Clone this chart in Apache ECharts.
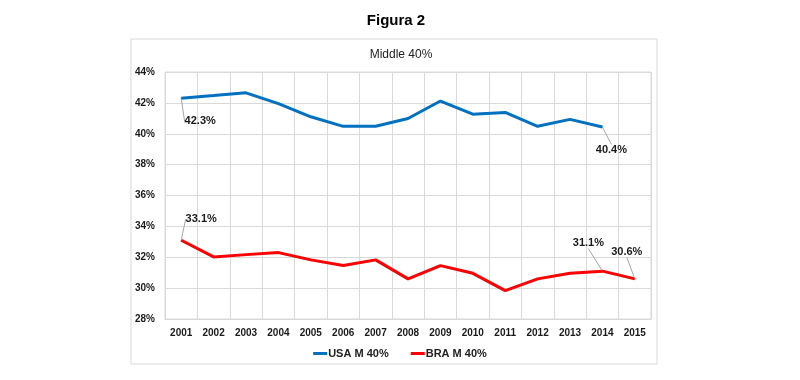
<!DOCTYPE html>
<html>
<head>
<meta charset="utf-8">
<script src="https://cdn.jsdelivr.net/npm/echarts@6/dist/echarts.min.js"></script>
<style>html,body{margin:0;padding:0;background:#fff}#c{width:800px;height:380px}</style>
</head>
<body>
<div id="c"></div>
<script>
const years = ['2001','2002','2003','2004','2005','2006','2007','2008','2009','2010','2011','2012','2013','2014','2015'];
const usa = [42.3, 42.47, 42.65, 41.95, 41.1, 40.48, 40.49, 40.99, 42.12, 41.27, 41.38, 40.48, 40.93, 40.44, null];
const bra = [33.1, 32.02, 32.17, 32.3, 31.83, 31.46, 31.83, 30.6, 31.46, 30.96, 29.84, 30.6, 30.96, 31.1, 30.6];
const yTicks = [28, 30, 32, 34, 36, 38, 40, 42, 44];
const usaLabelIdx = [0, 13];
const braLabelIdx = [0, 13, 14];
const usaOffsets = {0: [19, 34], 13: [9, 34]};
const braOffsets = {0: [20, -10], 13: [-14, -17], 14: [-8, -16]};

const labelFont = {show: true, position: 'top', fontFamily: 'Liberation Sans', fontWeight: 'bold', fontSize: 11, color: '#1a1a1a', formatter: p => p.value.toFixed(1) + '%'};
function mk(arr, idxs) {
  return arr.map((v, i) => idxs.includes(i) ? {value: v, label: labelFont, labelLine: {show: true}} : v);
}

const chart = echarts.init(document.getElementById('c'));
chart.setOption({
  animation: false,
  backgroundColor: '#fff',
  graphic: [{type: 'rect', shape: {x: 131, y: 39, width: 526, height: 325}, style: {fill: 'none', stroke: '#d9d9d9', lineWidth: 1}, z: -1}],
  title: [
    {text: 'Figura 2', left: 391, textAlign: 'center', top: 8, textStyle: {fontFamily: 'Liberation Sans', fontWeight: 'bold', fontSize: 15, color: '#000'}},
    {text: 'Middle 40%', left: 396, textAlign: 'center', top: 44, textStyle: {fontFamily: 'Liberation Sans', fontWeight: 'normal', fontSize: 12, color: '#222'}}
  ],
  legend: {
    data: ['USA M 40%', 'BRA M 40%'], left: 'center', top: 343, icon: 'rect', itemWidth: 14, itemHeight: 3, itemGap: 22,
    textStyle: {fontFamily: 'Liberation Sans', fontWeight: 'bold', fontSize: 11, color: '#222', padding: [0, 0, 0, -4]}
  },
  grid: {left: 165, right: 149, top: 72, bottom: 61, show: true, borderColor: '#d9d9d9', borderWidth: 1},
  xAxis: {
    type: 'category', data: years, boundaryGap: true,
    axisLine: {show: true, lineStyle: {color: '#d9d9d9'}}, axisTick: {show: false},
    splitLine: {show: true, interval: 0, lineStyle: {color: '#d9d9d9'}},
    axisLabel: {interval: 0, margin: 9, fontFamily: 'Liberation Sans', fontWeight: 'bold', fontSize: 10, color: '#1a1a1a'}
  },
  yAxis: {
    type: 'value', min: yTicks[0], max: yTicks[yTicks.length - 1], interval: 2,
    axisLine: {show: false}, axisTick: {show: false},
    splitLine: {show: true, lineStyle: {color: '#d9d9d9'}},
    axisLabel: {margin: 10, fontFamily: 'Liberation Sans', fontWeight: 'bold', fontSize: 10, color: '#1a1a1a', formatter: v => v + '%'}
  },
  series: [
    {name: 'USA M 40%', type: 'line', data: mk(usa, usaLabelIdx), showSymbol: true, symbol: 'circle', symbolSize: 1, lineStyle: {width: 3, color: '#0070C0'}, itemStyle: {color: '#0070C0'},
     labelLine: {show: true, lineStyle: {color: '#a6a6a6', width: 1}},
     labelLayout: p => { const o = usaOffsets[p.dataIndex]; return o ? {dx: o[0], dy: o[1]} : {}; }},
    {name: 'BRA M 40%', type: 'line', data: mk(bra, braLabelIdx), showSymbol: true, symbol: 'circle', symbolSize: 1, lineStyle: {width: 3, color: '#FF0000'}, itemStyle: {color: '#FF0000'},
     labelLine: {show: true, lineStyle: {color: '#a6a6a6', width: 1}},
     labelLayout: p => { const o = braOffsets[p.dataIndex]; return o ? {dx: o[0], dy: o[1]} : {}; }}
  ]
});
</script>
</body>
</html>
